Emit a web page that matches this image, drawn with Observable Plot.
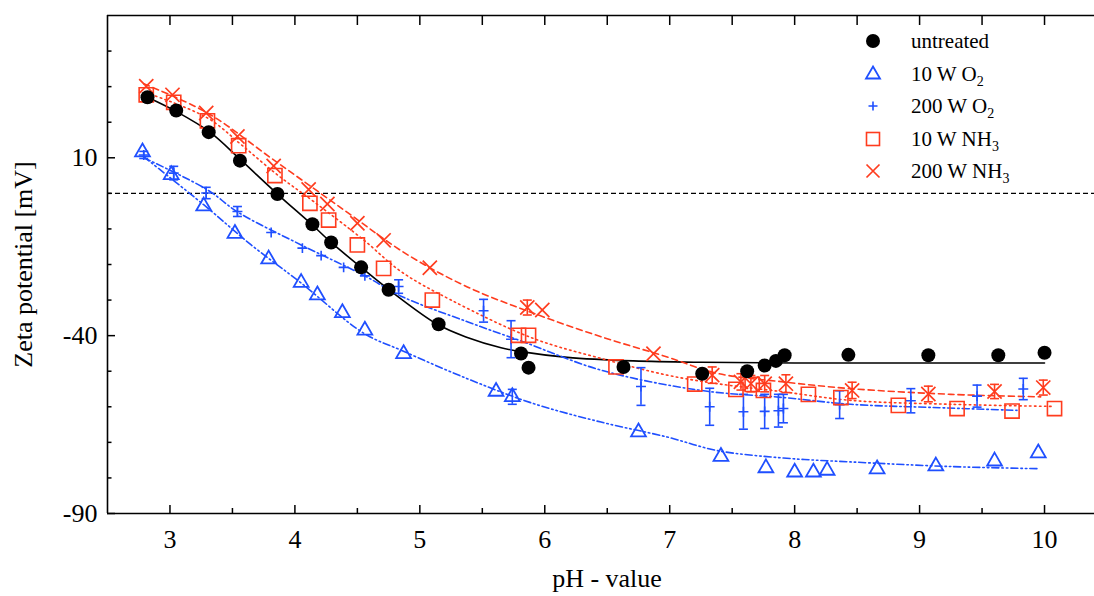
<!DOCTYPE html>
<html><head><meta charset="utf-8">
<script src="https://cdn.jsdelivr.net/npm/d3@7"></script>
<script src="https://cdn.jsdelivr.net/npm/@observablehq/plot@0.6"></script>
<style>
html,body{margin:0;padding:0;background:#fff;}
#wrap{position:relative;width:1094px;height:596px;overflow:hidden;font-family:"Liberation Serif","Times New Roman",serif;color:#000;}
#chart svg{font-family:"Liberation Serif","Times New Roman",serif !important;}
#chart svg text{font-family:"Liberation Serif","Times New Roman",serif !important;}
#legend{position:absolute;left:0;top:0;}
.row{position:absolute;height:32px;line-height:32px;font-size:21px;white-space:nowrap;}
.row svg{position:absolute;top:2px;}
.row span{position:absolute;}
sub{font-size:14px;vertical-align:-5px;line-height:0;}
</style></head>
<body><div id="wrap"><div id="chart"></div><div id="legend"></div></div>
<script>
// ---- data ----
const untreatedPH   = [2.82,3.05,3.31,3.56,3.86,4.14,4.29,4.53,4.75,5.15,5.81,5.87,6.63,7.26,7.62,7.76,7.85,7.92,8.43,9.07,9.63,10.0];
const untreatedZeta = [27.0,23.3,17.2,9.2,-0.2,-8.7,-13.8,-20.8,-27.1,-36.8,-45.0,-49.0,-48.8,-50.7,-50.0,-48.4,-47.1,-45.5,-45.4,-45.5,-45.5,-44.8];
const untreatedFitPH   = [2.82,3.05,3.32,3.56,3.86,4.14,4.29,4.53,4.75,5.14,5.38,5.65,5.81,6.18,6.71,7.25,8.0,9.0,10.0];
const untreatedFitZeta = [27.0,23.0,17.2,9.6,-0.2,-8.9,-13.8,-20.8,-27.0,-36.8,-40.5,-43.4,-44.5,-46.1,-47.1,-47.5,-47.7,-47.7,-47.7];

const o2LowPH   = [2.78,3.01,3.27,3.52,3.79,4.05,4.18,4.38,4.56,4.87,5.61,5.74,6.75,7.41,7.77,8.00,8.15,8.26,8.66,9.13,9.60,9.95];
const o2LowZeta = [11.6,5.2,-3.6,-11.3,-18.5,-25.1,-28.6,-33.6,-38.5,-45.1,-55.7,-57.2,-67.1,-74.0,-77.2,-78.4,-78.4,-77.9,-77.5,-76.7,-75.3,-73.0];
const o2LowErr  = [0,0,0,0,0,0,0,0,0,0,0,2.1,0,0,0,0,0,0,0,0,0,0];
const o2LowFitPH   = [2.79,3.27,3.65,4.05,4.55,4.85,5.38,5.91,6.45,6.98,7.38,7.91,8.45,9.25,9.95];
const o2LowFitZeta = [10.3,-3.2,-14.5,-25.2,-39.3,-44.1,-52.1,-59.1,-64.3,-68.5,-72.3,-74.4,-75.5,-76.8,-77.4];

const o2HighPH   = [2.79,3.03,3.29,3.54,3.81,4.06,4.21,4.39,4.56,4.83,5.51,5.73,6.77,7.32,7.59,7.76,7.87,7.91,8.36,8.93,9.46,9.83];
const o2HighZeta = [10.8,5.7,0.1,-5.1,-11.0,-15.4,-17.5,-20.8,-23.2,-26.2,-33.0,-41.0,-54.3,-60.0,-61.4,-61.3,-61.1,-60.5,-59.4,-58.3,-57.0,-55.0];
const o2HighErr  = [1.0,1.9,1.6,1.4,0,0,0,0,0,1.9,3.2,5.2,5.3,5.2,4.9,4.8,4.6,4.0,3.9,3.4,3.1,3.0];
const o2HighFitPH   = [2.79,3.30,3.54,4.05,4.56,4.85,5.38,5.81,6.45,7.25,7.91,8.45,9.11,9.78];
const o2HighFitZeta = [10.0,1.0,-5.2,-14.5,-23.2,-28.9,-36.1,-41.5,-49.7,-55.4,-57.4,-59.3,-60.2,-61.0];

const nh3LowPH   = [2.81,3.03,3.30,3.55,3.84,4.12,4.27,4.50,4.71,5.10,5.79,5.87,6.57,7.20,7.53,7.66,7.75,8.11,8.37,8.83,9.30,9.74,10.08];
const nh3LowZeta = [27.7,25.6,20.4,13.4,5.0,-2.8,-7.5,-14.5,-21.1,-30.0,-39.9,-39.9,-48.8,-53.6,-55.1,-53.7,-55.4,-56.5,-57.4,-59.6,-60.5,-61.2,-60.5];
const nh3LowFitPH   = [2.81,3.30,3.57,3.86,4.15,4.55,4.85,5.25,5.91,6.45,6.98,7.38,7.91,8.45,9.25,10.07];
const nh3LowFitZeta = [28.3,21.2,13.7,5.2,-2.3,-13.1,-22.0,-30.0,-40.8,-46.4,-51.1,-53.5,-55.8,-58.2,-59.3,-59.9];

const nh3HighPH   = [2.81,3.02,3.29,3.54,3.83,4.11,4.26,4.50,4.71,5.08,5.86,5.98,6.87,7.34,7.57,7.65,7.76,7.93,8.46,9.07,9.60,9.99];
const nh3HighZeta = [30.1,27.7,22.6,16.0,7.7,1.1,-3.0,-8.4,-13.2,-20.9,-32.1,-32.8,-45.1,-51.1,-53.0,-53.5,-53.5,-53.5,-55.4,-56.4,-55.7,-54.6];
const nh3HighErr  = [0,0,0,0,0,0,0,0,0,0,2.1,0,0,2.3,2.3,2.3,2.3,2.5,2.3,2.2,2.0,2.1];
const nh3HighFitPH   = [2.79,3.30,3.83,4.39,4.89,5.38,5.91,6.45,6.98,7.38,7.91,8.45,9.25,9.97];
const nh3HighFitZeta = [30.8,22.6,9.4,-4.6,-17.0,-26.3,-33.7,-40.3,-46.0,-50.6,-53.0,-54.9,-56.5,-57.2];

const seriesNames = ["untreated","10 W O<sub>2</sub>","200 W O<sub>2</sub>","10 W NH<sub>3</sub>","200 W NH<sub>3</sub>"];
const xDomain = [2.5, 10.4], yDomain = [-90, 50];
const xMajor = [3,4,5,6,7,8,9,10];
const xMinor = [3.5,4.5,5.5,6.5,7.5,8.5,9.5];
const yMajor = [10,-40,-90];
const yMinor = [40,30,20,0,-10,-20,-30,-50,-60,-70,-80];
const xTitle = "pH - value", yTitle = "Zeta potential [mV]";

// ---- build ----
const FONT = '"Liberation Serif","Times New Roman",serif';
const blue = "#1f4fff", red = "#ff3c1e";
const zip = (xs, ys, es) => xs.map((x, i) => ({x, y: ys[i], e: es ? es[i] : 0}));
const unt = zip(untreatedPH, untreatedZeta), untFit = zip(untreatedFitPH, untreatedFitZeta);
const o2L = zip(o2LowPH, o2LowZeta, o2LowErr), o2LFit = zip(o2LowFitPH, o2LowFitZeta);
const o2H = zip(o2HighPH, o2HighZeta, o2HighErr), o2HFit = zip(o2HighFitPH, o2HighFitZeta);
const nL = zip(nh3LowPH, nh3LowZeta), nLFit = zip(nh3LowFitPH, nh3LowFitZeta);
const nH = zip(nh3HighPH, nh3HighZeta, nh3HighErr), nHFit = zip(nh3HighFitPH, nh3HighFitZeta);
const cap = {draw(ctx){ ctx.moveTo(-4.5,0); ctx.lineTo(4.5,0); }};

function errMarks(data, color){
  const d = data.filter(r => r.e > 0);
  return [
    Plot.ruleX(d, {x:"x", y1: r => r.y - r.e, y2: r => r.y + r.e, stroke: color, strokeWidth: 1.6}),
    Plot.dot(d, {x:"x", y: r => r.y - r.e, symbol: cap, stroke: color, strokeWidth: 1.6}),
    Plot.dot(d, {x:"x", y: r => r.y + r.e, symbol: cap, stroke: color, strokeWidth: 1.6})
  ];
}
const lineOpts = (color, dash) => ({x:"x", y:"y", curve:"catmull-rom", stroke: color, strokeWidth: 1.6, strokeDasharray: dash});
const blank = () => "";
const num = d => String(d);

const chart = Plot.plot({
  width: 1094, height: 596,
  marginLeft: 107, marginRight: 0, marginTop: 15, marginBottom: 83,
  style: {fontFamily: FONT, fontSize: "26px", color: "#000", background: "#fff", overflow: "visible"},
  x: {domain: xDomain},
  y: {domain: yDomain},
  marks: [
    Plot.ruleY([0], {stroke: "#000", strokeWidth: 1.4, strokeDasharray: "5,3"}),
    Plot.line(untFit, lineOpts("#000", null)),
    Plot.line(o2LFit, lineOpts(blue, "7,3,1.5,3,1.5,3")),
    Plot.line(o2HFit, lineOpts(blue, "7,3,1.5,3")),
    Plot.line(nLFit, lineOpts(red, "1.5,3.5")),
    Plot.line(nHFit, lineOpts(red, "6,4")),
    ...errMarks(o2L, blue),
    ...errMarks(o2H, blue),
    ...errMarks(nH, red),
    Plot.dot(o2L, {x:"x", y:"y", symbol:"triangle", r: 5.5, stroke: blue, strokeWidth: 1.8, fill: "none"}),
    Plot.dot(o2H, {x:"x", y:"y", symbol:"plus", r: 3.3, stroke: blue, strokeWidth: 1.6}),
    Plot.dot(nL, {x:"x", y:"y", symbol:"square", r: 8, stroke: red, strokeWidth: 1.6, fill: "none"}),
    Plot.dot(nH, {x:"x", y:"y", symbol:"times", r: 6.5, stroke: red, strokeWidth: 1.7}),
    Plot.dot(unt, {x:"x", y:"y", r: 7, fill: "#000"}),
    Plot.ruleY([yDomain[0], yDomain[1]], {stroke: "#000", strokeWidth: 1.6}),
    Plot.ruleX([xDomain[0]], {stroke: "#000", strokeWidth: 1.6}),
    Plot.axisX(xMajor, {anchor: "bottom", tickSize: -8, tickFormat: blank, label: null, strokeWidth: 1.5}),
    Plot.axisX(xMinor, {anchor: "bottom", tickSize: -5, tickFormat: blank, label: null, strokeWidth: 1.5}),
    Plot.axisX(xMajor.concat(xMinor), {anchor: "top", tickSize: -9, tickFormat: blank, label: null, strokeWidth: 1.5}),
    Plot.axisX(xMajor, {anchor: "bottom", tickSize: 0, tickPadding: 16, tickFormat: num, label: null, fontSize: 26, fontFamily: FONT, fill: "#000"}),
    Plot.axisY(yMajor, {anchor: "left", tickSize: -8, tickPadding: 18, tickFormat: num, label: null, fontSize: 26, fontFamily: FONT, strokeWidth: 1.5, fill: "#000"}),
    Plot.axisY(yMinor, {anchor: "left", tickSize: -4.5, tickFormat: blank, label: null, strokeWidth: 1.5}),
    Plot.text([xTitle], {frameAnchor: "bottom", dy: 73, dx: 6, text: d => d, fontSize: 26, fontFamily: FONT, fill: "#000"}),
    Plot.text([yTitle], {frameAnchor: "left", dx: -84, rotate: -90, textAnchor: "middle", text: d => d, fontSize: 26, fontFamily: FONT, fill: "#000"})
  ]
});
document.getElementById("chart").appendChild(chart);

// ---- legend ----
const legendSymbols = [
  '<circle cx="14" cy="14" r="7" fill="#000"/>',
  `<path d="M14,6.5 L21,18.5 L7,18.5 Z" fill="none" stroke="${blue}" stroke-width="1.8"/>`,
  `<path d="M14,9.5 V18.5 M9.5,14 H18.5" stroke="${blue}" stroke-width="1.6"/>`,
  `<rect x="7.5" y="7.5" width="13" height="13" fill="none" stroke="${red}" stroke-width="1.6"/>`,
  `<path d="M7.5,7.5 L20.5,20.5 M20.5,7.5 L7.5,20.5" stroke="${red}" stroke-width="1.7"/>`
];
const leg = document.getElementById("legend");
seriesNames.forEach((name, i) => {
  const row = document.createElement("div");
  row.className = "row";
  row.style.left = "859px";
  row.style.top = (25 + i * 32.5) + "px";
  row.innerHTML = `<svg width="28" height="28">${legendSymbols[i]}</svg><span style="left:52px">${name}</span>`;
  leg.appendChild(row);
});
</script>
</body></html>
